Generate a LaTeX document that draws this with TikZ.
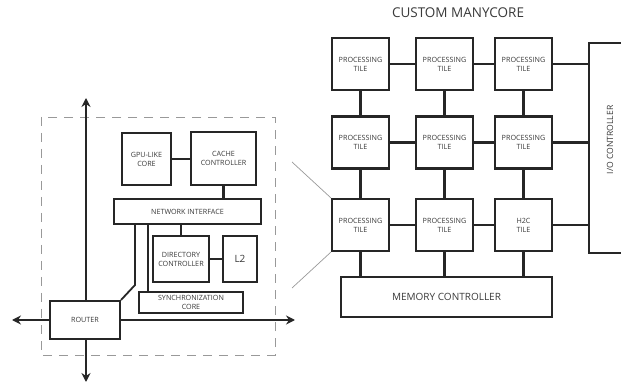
\documentclass[tikz,border=0pt]{standalone}
\usepackage{fontspec}
\setmainfont{Open Sans}
\usetikzlibrary{arrows.meta}
\definecolor{txt}{HTML}{3A3A3A}
\tikzset{
  box/.style={draw=black!85, line width=2.2pt, fill=white, align=center, inner sep=0pt,
    text=txt, font=\fontsize{7.2}{9}\selectfont},
  tile/.style={box, minimum width=57pt, minimum height=52pt},
  wire/.style={draw=black!85, line width=2.2pt},
  arr/.style={draw=black!85, line width=1.8pt, -{Stealth[length=9pt,width=9pt]}},
  zoomline/.style={draw=black!40, line width=0.7pt},
}
\begin{document}
\begin{tikzpicture}[x=1pt,y=-1pt]
\useasboundingbox (0,0) rectangle (621,387);
% title
\node[text=txt, font=\fontsize{13.5}{15}\selectfont] (title) at (458,13) {CUSTOM MANYCORE};
% dashed region
\draw[black!40, dash pattern=on 9pt off 7pt, line width=0.9pt] (41,117) rectangle (275,355);
% arrows coordinates
\coordinate (atop) at (86,98);
\coordinate (abot) at (86,382);
\coordinate (aleft) at (12,320);
\coordinate (aright) at (295,320);
% router
\node[box, minimum width=70pt, minimum height=38pt] (router) at (85,320) {ROUTER};
\draw[arr] (router.north -| atop) -- (atop);
\draw[arr] (router.south -| abot) -- (abot);
\draw[arr] (router.west) -- (aleft);
\draw[arr] (router.east) -- (aright);
% internal boxes
\node[box, minimum width=49pt, minimum height=52pt] (gpu) at (146.5,159) {GPU-LIKE\\CORE};
\node[box, minimum width=65pt, minimum height=53pt] (cache) at (223.5,158.5) {CACHE\\CONTROLLER};
\node[box, minimum width=147pt, minimum height=25pt] (ni) at (187.5,211.5) {NETWORK INTERFACE};
\node[box, minimum width=56pt, minimum height=46pt] (dir) at (181,259) {DIRECTORY\\CONTROLLER};
\node[box, minimum width=34pt, minimum height=46pt, font=\fontsize{10}{12}\selectfont] (l2) at (240,259) {L2};
\node[box, minimum width=104pt, minimum height=21pt] (sync) at (191,302.5) {SYNCHRONIZATION\\CORE};
\draw[wire] (gpu.east) -- (gpu.east -| cache.west);
\draw[wire] (cache.south) -- (cache.south |- ni.north);
\draw[wire] (dir.north) -- (dir.north |- ni.south);
\draw[wire] (dir.east) -- (dir.east -| l2.west);
\coordinate (k1) at (135,285);
\coordinate (k2) at (148,0);
\draw[wire, line width=1.8pt] (ni.south -| k1) -- (k1) -- (router.north east);
\draw[wire, line width=1.8pt] (ni.south -| k2) -- (k2 |- sync.north);
% tiles
\node[tile] (t11) at (360.5,64) {PROCESSING\\TILE};
\node[tile] (t12) at (444.5,64) {PROCESSING\\TILE};
\node[tile] (t13) at (523.5,64) {PROCESSING\\TILE};
\node[tile] (t21) at (360.5,142.5) {PROCESSING\\TILE};
\node[tile] (t22) at (444.5,142.5) {PROCESSING\\TILE};
\node[tile] (t23) at (523.5,142.5) {PROCESSING\\TILE};
\node[tile] (t31) at (360.5,225) {PROCESSING\\TILE};
\node[tile] (t32) at (444.5,225) {PROCESSING\\TILE};
\node[tile] (t33) at (523.5,225) {H2C\\TILE};
\node[box, minimum width=211pt, minimum height=40pt, font=\fontsize{10}{12}\selectfont] (mem) at (446.5,297) {MEMORY CONTROLLER};
% I/O controller
\coordinate (iotop) at (589,43);
\coordinate (iobot) at (589,253);
\draw[wire] (622,43) -- (iotop) -- (iobot) -- (622,253);
\node[text=txt, rotate=90, font=\fontsize{8.6}{10}\selectfont] (io) at (610,140) {I/O CONTROLLER};
% grid wires
\foreach \r in {1,2,3}{
  \draw[wire] (t\r1) -- (t\r2);
  \draw[wire] (t\r2) -- (t\r3);
  \draw[wire] (t\r3.east) -- (t\r3.east -| iotop);
}
\foreach \c in {1,2,3}{
  \draw[wire] (t1\c) -- (t2\c);
  \draw[wire] (t2\c) -- (t3\c);
  \draw[wire] (t3\c.south) -- (t3\c.south |- mem.north);
}
% zoom lines
\coordinate (g1) at (292,162);
\coordinate (g2) at (292,288);
\draw[zoomline] (g1) -- (t31.north west);
\draw[zoomline] (g2) -- (t31.south west);
\end{tikzpicture}
\end{document}
